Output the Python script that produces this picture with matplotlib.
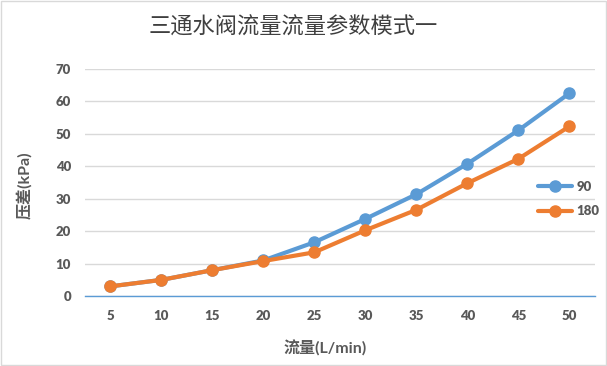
import matplotlib.pyplot as plt
from matplotlib.patches import Rectangle

plt.rcParams['font.family'] = ['Lato', 'Noto Sans CJK SC', 'DejaVu Sans']

flow = [5, 10, 15, 20, 25, 30, 35, 40, 45, 50]
dp_90 = [3.0, 5.0, 8.0, 11.0, 16.6, 23.8, 31.4, 40.8, 51.1, 62.5]
dp_180 = [3.0, 5.0, 8.0, 10.8, 13.5, 20.3, 26.6, 34.8, 42.3, 52.3]
series_names = ['90', '180']
colors = ['#5B9BD5', '#ED7D31']

fig = plt.figure(figsize=(6.07, 3.66), dpi=100)
ax = fig.add_axes([0.140, 0.191, 0.840, 0.6205])

x = list(range(len(flow)))
for vals, name, c in zip([dp_90, dp_180], series_names, colors):
    ax.plot(x, vals, color=c, lw=3, marker='o', ms=8, label=name,
            solid_capstyle='round')

ax.set_xlim(-0.5, len(flow) - 0.5)
ax.set_ylim(0, 70)
ax.set_yticks(range(0, 71, 10))
ax.set_xticks(x)
ax.set_xticklabels([str(f) for f in flow])
ax.grid(axis='y', color='#D9D9D9', lw=1)
ax.set_axisbelow(True)
for s in ['top', 'right', 'left']:
    ax.spines[s].set_visible(False)
ax.spines['bottom'].set_color('#5B9BD5')
ax.spines['bottom'].set_linewidth(1)
ax.tick_params(length=0, labelsize=9.5, colors='#595959', pad=10)
for lbl in ax.get_xticklabels() + ax.get_yticklabels():
    lbl.set_fontweight('heavy')

fig.text(0.483, 0.925, '三通水阀流量流量参数模式一', ha='center', va='center',
         fontsize=16, color='#3F3F3F', family=['Noto Sans CJK SC'])
fig.text(0.535, 0.048, '流量(L/min)', ha='center', va='center',
         fontsize=11.5, color='#595959', fontweight='bold')
fig.text(0.042, 0.495, '压差(kPa)', ha='center', va='center', rotation=90,
         fontsize=11.5, color='#595959', fontweight='bold')

leg = ax.legend(loc='center left', bbox_to_anchor=(0.865, 0.427), frameon=False,
                fontsize=9.5, handlelength=2.6, handletextpad=0.3,
                labelspacing=0.95)
for t in leg.get_texts():
    t.set_color('#595959')
    t.set_fontweight('heavy')

fig.patches.append(Rectangle((0.001, 0.002), 0.997, 0.995,
                             transform=fig.transFigure, fill=False,
                             edgecolor='#D9D9D9', lw=1))

fig.savefig('out.png', dpi=100)
